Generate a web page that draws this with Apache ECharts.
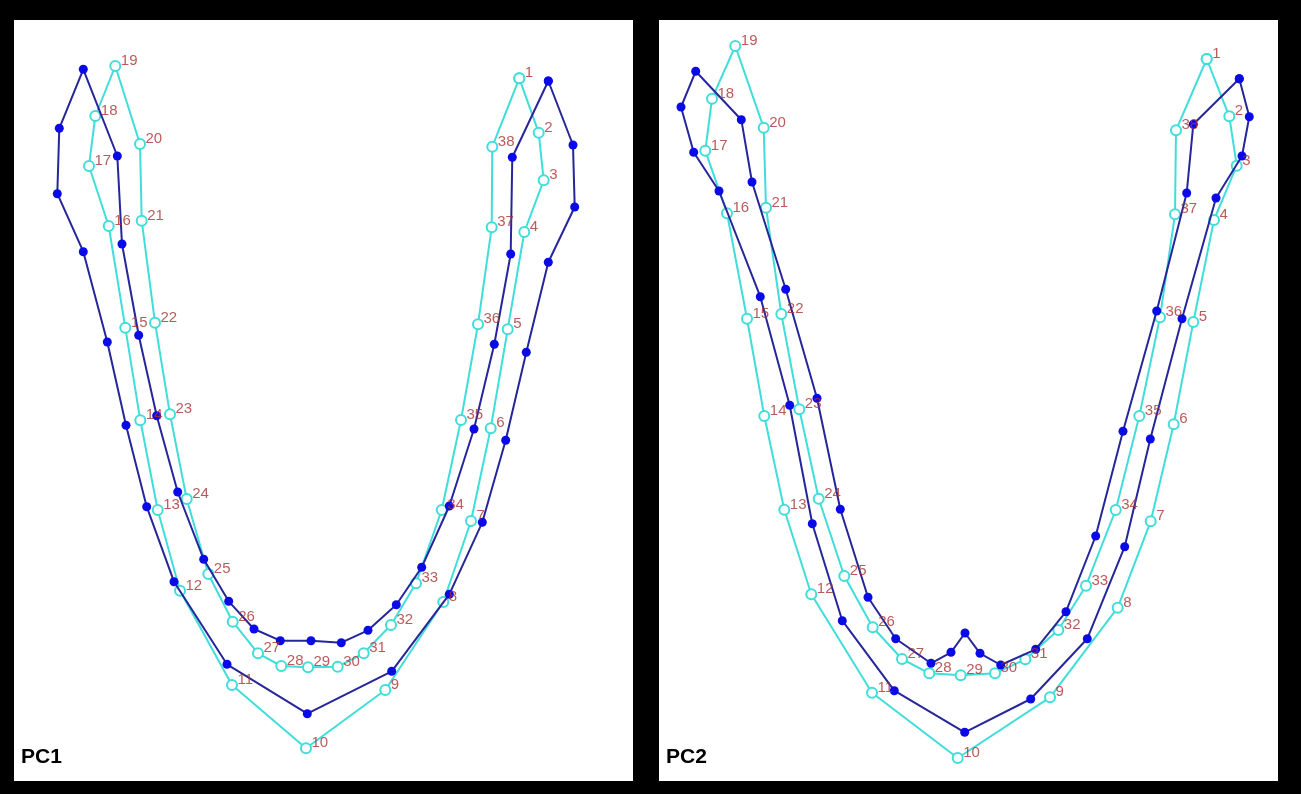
<!DOCTYPE html>
<html>
<head>
<meta charset="utf-8">
<script src="https://cdn.jsdelivr.net/npm/echarts@6/dist/echarts.min.js"></script>
<style>
html,body{margin:0;padding:0;background:#000;}
#c{width:1301px;height:794px;}
</style>
</head>
<body>
<div id="c"></div>
<script>
// Landmark coordinates (arbitrary units, y downward), 38 landmarks per outline
const pc1MeanX = [505.3,524.7,529.7,510.3,493.7,476.7,457,429.3,371.3,292,218,166,143.7,126.3,111.3,94.7,75,81.3,101.3,126,127.7,141,156,172.7,194.3,218.7,244,267.3,294,323.7,349.7,377,402,427.7,447,464,477.7,478.3];
const pc1MeanY = [58.3,112.7,160.3,212,309.3,408.3,501,582,670,728.3,665,570.7,490,400.3,307.7,206,146,96,46,124,200.7,302.7,394.3,479,554,601.7,633.3,646,647.3,646.7,633.3,605,563.3,490,400,304.3,207.3,126.7];
const pc1ModeX = [534.3,559,560.7,534.3,512.3,491.7,468.3,435.3,377.7,293.3,213,160,132.7,112,93.3,69.3,43.3,45.3,69.3,103.3,108,124.7,142.7,163.7,189.7,214.7,240,266.3,297,327.3,354,382.3,407.7,435.3,460,480.3,496.7,498.3];
const pc1ModeY = [61,125,187,242.3,332.3,420.3,502.3,574.3,651.3,693.7,644.3,561.7,486.7,405.3,322,231.7,173.7,108.3,49.3,136,224,315.3,395.7,472,539.3,581.3,609,620.7,620.7,622.7,610.3,584.7,547.3,486,409,324.3,234,137.3];

const pc2MeanX = [547.7,570.3,577.7,555,534.3,514.7,491.7,458.7,391,298.7,213,152.3,125.3,105.3,88,68,46.3,53,76.3,104.7,107,122.3,140.3,159.7,185.3,213.7,243,270.3,301.7,336,366.3,399.3,427,456.7,480.3,501,516,517];
const pc2MeanY = [39,96.3,145.7,200,302,404.3,501.3,587.7,677.3,738,672.7,574.3,489.7,396,298.7,193.3,130.7,78.7,26,107.7,187.7,294,389.3,478.7,556,607.3,639,653.3,655.3,653.3,639.3,610,565.7,490,396,297.3,194.3,110.3];
const pc2ModeX = [580.3,590.3,583,557,523,491.3,465.7,428.3,371.7,305.7,235.3,183.3,153.3,130.7,101.3,60,34.7,22,36.7,82.3,93,126.7,158,181.3,209,236.7,272,292,306,321,341.7,376.7,407,436.7,464,497.7,527.7,534.3];
const pc2ModeY = [58.7,96.7,136,178,298.7,419,526.7,618.7,679,712.3,670.7,600.7,503.7,385.3,276.7,171,132.3,87,51.3,99.7,162,269.3,378.3,489.3,577.3,618.7,643.3,632.3,613,633.3,645,629.3,591.7,516,411.3,291,173,104.3];

const panelTitles = ['PC1','PC2'];
const landmarkLabels = pc1MeanX.map((_, i) => String(i + 1));

const CYAN = '#3fdedb';
const NAVY = '#26269a';
const BLUE = '#0a0ae8';
const LABEL = '#a83232';

function closed(xs, ys) {
  const pts = xs.map((x, i) => [x, ys[i]]);
  pts.push(pts[0]);
  return pts;
}
function pts(xs, ys) { return xs.map((x, i) => [x, ys[i]]); }

const panels = [
  {mx: pc1MeanX, my: pc1MeanY, px: pc1ModeX, py: pc1ModeY, left: 14},
  {mx: pc2MeanX, my: pc2MeanY, px: pc2ModeX, py: pc2ModeY, left: 659}
];

const grid = [], xAxis = [], yAxis = [], series = [], graphic = [];
panels.forEach((p, k) => {
  grid.push({left: p.left, top: 20, width: 619, height: 761, show: true,
    backgroundColor: '#fff', borderWidth: 0});
  xAxis.push({type: 'value', gridIndex: k, min: 0, max: 619, show: false});
  yAxis.push({type: 'value', gridIndex: k, min: 0, max: 761, inverse: true, show: false});
  series.push({
    type: 'line', xAxisIndex: k, yAxisIndex: k, data: closed(p.mx, p.my),
    symbol: 'emptyCircle', symbolSize: 10, z: 2, animation: false,
    lineStyle: {color: CYAN, width: 2},
    itemStyle: {color: CYAN, borderColor: CYAN, borderWidth: 1}
  });
  series.push({
    type: 'line', xAxisIndex: k, yAxisIndex: k, data: closed(p.px, p.py),
    symbol: 'circle', symbolSize: 9, z: 3, animation: false,
    lineStyle: {color: NAVY, width: 2},
    itemStyle: {color: BLUE}
  });
  series.push({
    type: 'scatter', xAxisIndex: k, yAxisIndex: k, data: pts(p.mx, p.my),
    symbolSize: 1, z: 5, animation: false, silent: true,
    itemStyle: {color: 'rgba(0,0,0,0)'},
    label: {show: true, position: 'right', distance: 5, offset: [0, -5],
      formatter: (d) => landmarkLabels[d.dataIndex],
      color: LABEL, fontSize: 15, fontFamily: 'Liberation Sans, Arial, sans-serif'}
  });
  graphic.push({type: 'text', left: p.left + 7, top: 747,
    style: {text: panelTitles[k], fill: '#000', font: 'bold 21px "Liberation Sans", Arial, sans-serif'}});
});

const chart = echarts.init(document.getElementById('c'));
chart.setOption({backgroundColor: '#000', animation: false, grid, xAxis, yAxis, series, graphic});
</script>
</body>
</html>
